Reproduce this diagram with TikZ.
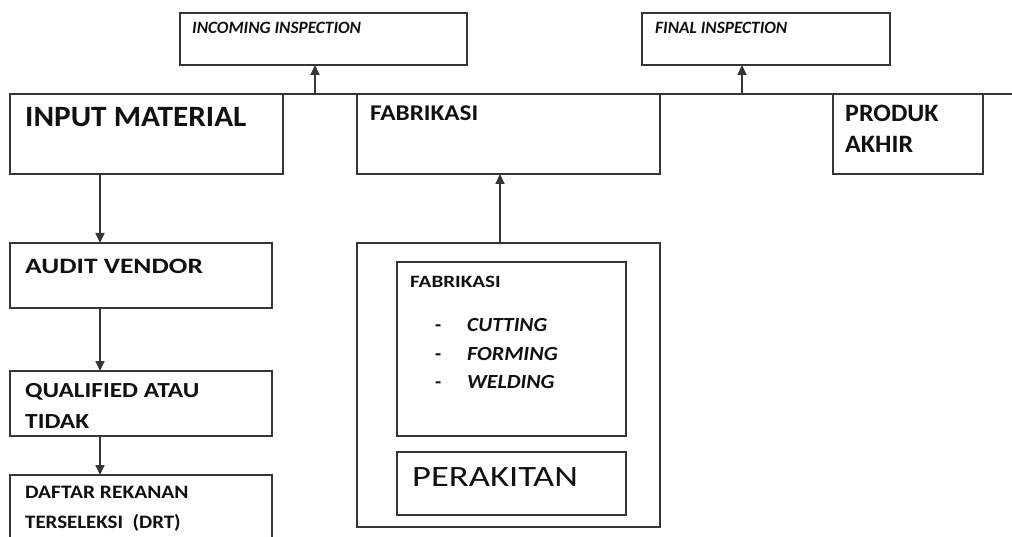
\documentclass[tikz,border=0pt]{standalone}
\usepackage{fontspec}
\setmainfont{Carlito}
\usetikzlibrary{arrows.meta}
\definecolor{edge}{HTML}{363636}
\definecolor{ink}{HTML}{111111}
% horizontally widened text
\newcommand{\widen}[2]{\scalebox{#1}[1]{#2}}
\newcommand{\fs}[1]{\fontsize{#1}{#1}\selectfont}
\begin{document}
\begin{tikzpicture}[x=1pt,y=-1pt,
  box/.style={draw=edge,line width=1.7pt,rectangle,inner sep=0pt,outer sep=0pt,anchor=north west},
  lbl/.style={anchor=base west,inner sep=0pt,text=ink},
  flow/.style={draw=edge,line width=1.7pt,-{Triangle[length=10pt,width=9pt]}}]
\clip (0,0) rectangle (1012,537);
\fill[white] (0,0) rectangle (1012,537);

% inspection boxes at the top
\node[box,minimum width=287pt,minimum height=52pt] (inc) at (180,13) {};
\node[box,minimum width=248pt,minimum height=52pt] (fin) at (642,13) {};
\node[lbl] (incT) at (192,34) {\fs{17.3}\bfseries\itshape INCOMING INSPECTION};
\node[lbl] (finT) at (655,34) {\fs{17.3}\bfseries\itshape FINAL INSPECTION};

% main process row
\node[box,minimum width=273pt,minimum height=80pt] (input) at (10,94) {};
\node[box,minimum width=303pt,minimum height=80pt] (fab) at (357,94) {};
\node[box,minimum width=150pt,minimum height=80pt] (prod) at (833,94) {};
\node[lbl] (inputT) at (25,127) {\widen{1.06}{\fs{29.5}\bfseries INPUT MATERIAL}};
\node[lbl] (fabT) at (370,121) {\widen{1.12}{\fs{22.5}\bfseries FABRIKASI}};
\node[lbl] (prodT1) at (845,122) {\widen{1.04}{\fs{25}\bfseries PRODUK}};
\node[lbl] (prodT2) at (845,153) {\widen{1.04}{\fs{25}\bfseries AKHIR}};

% common line along the top of the row
\coordinate (lineL) at (10,94);
\coordinate (lineR) at (1012,94);
\draw[draw=edge,line width=1.7pt] (lineL) -- (lineR);
\coordinate (tapInc) at (315,94);
\coordinate (tapFin) at (742,94);
\draw[flow] (tapInc) -- (tapInc |- inc.south);
\draw[flow] (tapFin) -- (tapFin |- fin.south);

% vendor selection column
\node[box,minimum width=262pt,minimum height=65pt] (audit) at (10,243) {};
\node[box,minimum width=262pt,minimum height=65pt] (qual) at (10,371) {};
\node[box,minimum width=262pt,minimum height=75pt] (drt) at (10,475) {};
\node[lbl] (auditT) at (25,274) {\widen{1.25}{\fs{22}\bfseries AUDIT VENDOR}};
\node[lbl] (qualT1) at (25,397) {\widen{1.18}{\fs{21.5}\bfseries QUALIFIED ATAU}};
\node[lbl] (qualT2) at (25,428) {\widen{1.18}{\fs{21.5}\bfseries TIDAK}};
\node[lbl] (drtT1) at (25,498) {\widen{1.13}{\fs{19}\bfseries DAFTAR REKANAN}};
\node[lbl] (drtT2) at (25,528) {\widen{1.1}{\fs{19}\bfseries TERSELEKSI\ \ (DRT)}};
\coordinate (colX) at (100,0);
\draw[flow] (colX |- input.south) -- (colX |- audit.north);
\draw[flow] (colX |- audit.south) -- (colX |- qual.north);
\draw[flow] (colX |- qual.south) -- (colX |- drt.north);

% fabrication group
\node[box,minimum width=303pt,minimum height=284pt] (group) at (357,243) {};
\node[box,minimum width=229pt,minimum height=174pt] (steps) at (397,262) {};
\node[box,minimum width=229pt,minimum height=63pt] (rakit) at (397,452) {};
\node[lbl] (stepsT) at (410,288) {\widen{1.22}{\fs{17.3}\bfseries FABRIKASI}};
\node[lbl] (d1) at (435,331) {\fs{20}\bfseries -};
\node[lbl] (d2) at (435,360) {\fs{20}\bfseries -};
\node[lbl] (d3) at (435,388) {\fs{20}\bfseries -};
\node[lbl] (s1) at (467,331) {\widen{1.07}{\fs{20}\bfseries\itshape CUTTING}};
\node[lbl] (s2) at (467,360) {\widen{1.1}{\fs{20}\bfseries\itshape FORMING}};
\node[lbl] (s3) at (467,388) {\widen{1.09}{\fs{20}\bfseries\itshape WELDING}};
\node[lbl] (rakitT) at (412,486) {\widen{1.24}{\fs{29.5}PERAKITAN}};
\coordinate (fabX) at (500,0);
\draw[flow] (fabX |- group.north) -- (fabX |- fab.south);
\end{tikzpicture}
\end{document}
